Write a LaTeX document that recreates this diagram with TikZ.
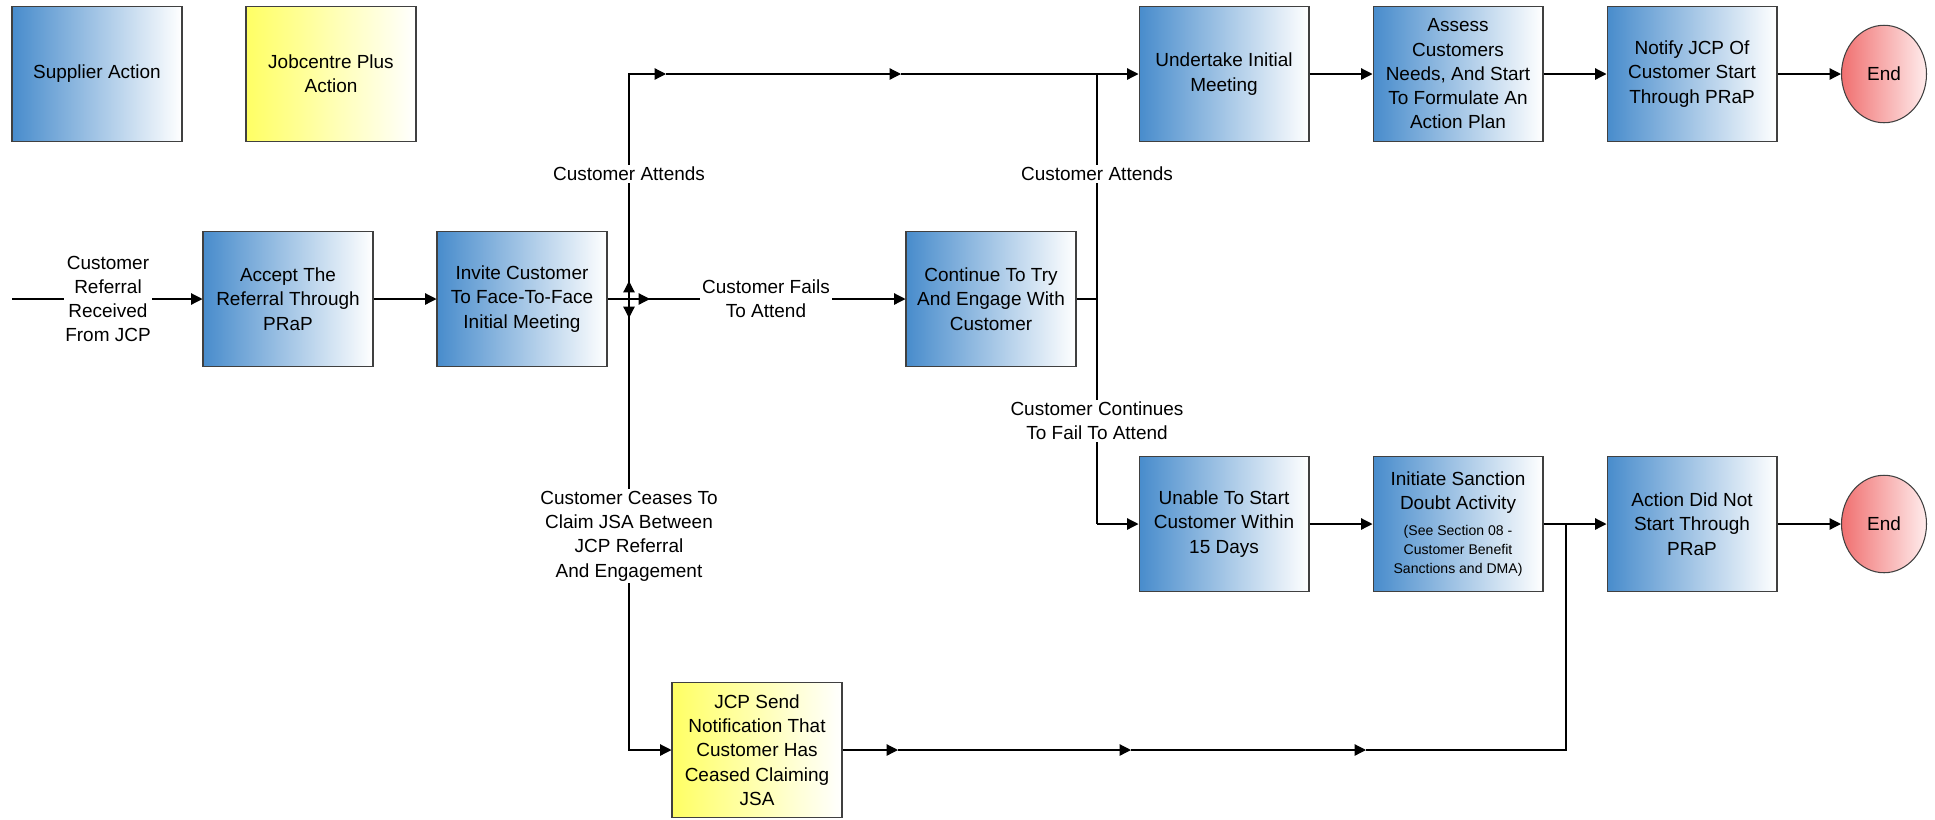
\documentclass[tikz,border=0pt]{standalone}
\usepackage{fontspec}
\setmainfont{Liberation Sans}
\usetikzlibrary{arrows.meta,shapes.geometric}

\definecolor{supblue}{RGB}{72,140,204}
\definecolor{jcpyellow}{RGB}{255,255,100}
\definecolor{endred}{RGB}{240,112,112}
\definecolor{endpink}{RGB}{255,236,236}
\definecolor{edgegray}{RGB}{64,64,64}
\newcommand{\boxfont}{\fontsize{10.8}{13.8}\selectfont}
\newcommand{\notefont}{\fontsize{8}{10.5}\selectfont}

\begin{document}
\begin{tikzpicture}[x=0.02cm,y=-0.02cm,line width=0.7pt,
  box/.style={rectangle,draw=edgegray,line width=0.6pt,minimum width=3.4cm,
    minimum height=2.7cm,inner sep=2pt,align=center,font=\boxfont},
  flow/.style={-{Triangle[length=6.5pt,width=6.5pt]}}]
  \useasboundingbox (0,0) rectangle (1935,819);

  \begin{scope}[every node/.style={box,left color=supblue,right color=white}]
    \node (legsup) at (97,74) {Supplier Action};
    \node (accept) at (288,299) {Accept The\\Referral Through\\PRaP};
    \node (invite) at (522,299) {Invite Customer\\To Face-To-Face\\Initial Meeting};
    \node (cont) at (991,299) {Continue To Try\\And Engage With\\Customer};
    \node (undertake) at (1224,74) {Undertake Initial\\Meeting};
    \node (assess) at (1458,74) {Assess\\Customers\\Needs, And Start\\To Formulate An\\Action Plan};
    \node (notify) at (1692,74) {Notify JCP Of\\Customer Start\\Through PRaP};
    \node (unable) at (1224,524) {Unable To Start\\Customer Within\\15 Days};
    \node (initiate) at (1458,524) {Initiate Sanction\\Doubt Activity\\[1pt]\notefont (See Section 08 -\\[-3pt]\notefont Customer Benefit\\[-3pt]\notefont Sanctions and DMA)};
    \node (notdone) at (1692,524) {Action Did Not\\Start Through\\PRaP};
  \end{scope}

  \begin{scope}[every node/.style={box,left color=jcpyellow,right color=white}]
    \node (legjcp) at (331,74) {Jobcentre Plus\\Action};
    \node (jcpsend) at (757,750) {JCP Send\\Notification That\\Customer Has\\Ceased Claiming\\JSA};
  \end{scope}

  \begin{scope}[every node/.style={ellipse,draw=edgegray,line width=0.6pt,
      left color=endred,right color=endpink,minimum width=1.7cm,
      minimum height=1.95cm,inner sep=0pt,font=\boxfont}]
    \node (end1) at (1884,74) {End};
    \node (end2) at (1884,524) {End};
  \end{scope}

  % bends and joins
  \coordinate (start) at (12,299);
  \coordinate (jn) at (629,299);
  \coordinate (jtop) at (629,74);
  \coordinate (jbot) at (629,750);
  \coordinate (ta) at (666,74);
  \coordinate (tb) at (901,74);
  \coordinate (cx) at (1097,299);
  \coordinate (cxtop) at (1097,74);
  \coordinate (cxbot) at (1097,524);
  \coordinate (ba) at (898,750);
  \coordinate (bb) at (1131,750);
  \coordinate (bc) at (1366,750);
  \coordinate (rise) at (1566,750);
  \coordinate (rj) at (1566,524);

  \draw[flow] (start) -- (accept);
  \foreach \a/\b in {accept/invite, undertake/assess, assess/notify,
      notify/end1, unable/initiate, notdone/end2} {
    \path [flow] (\a) edge (\b);
  }

  % split after the invitation
  \draw (invite) -- (jn);
  \draw[flow] (jn) -- ++(0,-18);
  \draw[flow] (jn) -- ++(0,19);
  \draw[flow] (jn) -- ++(21,0);
  \draw[flow] (jn) -- (jtop) -- (ta);
  \draw[flow] (ta) -- (tb);
  \draw[flow] (tb) -- (undertake);
  \draw[flow] (jn) -- (cont);
  \draw[flow] (jn) -- (jbot) -- (jcpsend);

  % continue to engage
  \draw (cont) -- (cx);
  \draw (cxtop) -- (cxbot);
  \draw[flow] (cxbot) -- (unable);

  % ceased claiming
  \draw[flow] (jcpsend) -- (ba);
  \draw[flow] (ba) -- (bb);
  \draw[flow] (bb) -- (bc);
  \draw (bc) -- (rise) -- (rj);
  \draw (initiate) -- (rj);
  \draw[flow] (rj) -- (notdone);

  \begin{scope}[every node/.style={fill=white,inner sep=1pt,align=center,font=\boxfont}]
    \node (lref) at (108,299) {Customer\\Referral\\Received\\From JCP};
    \node (lattend) at (629,174) {Customer Attends};
    \node (lattend2) at (1097,174) {Customer Attends};
    \node (lfails) at (766,299) {Customer Fails\\To Attend};
    \node (lcontinues) at (1097,421) {Customer Continues\\To Fail To Attend};
    \node (lceases) at (629,536) {Customer Ceases To\\Claim JSA Between\\JCP Referral\\And Engagement};
  \end{scope}
\end{tikzpicture}
\end{document}
